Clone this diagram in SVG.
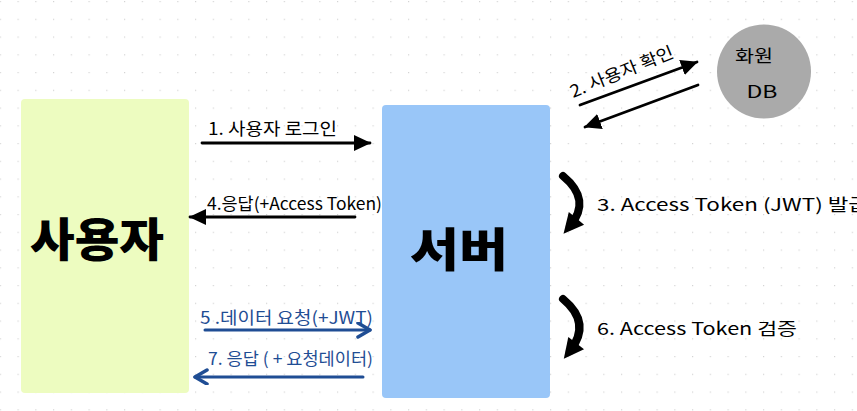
<svg xmlns="http://www.w3.org/2000/svg" width="857" height="411" viewBox="0 0 857 411">
  <defs>
    <pattern id="dots" x="17.5" y="1" width="17.75" height="17.75" patternUnits="userSpaceOnUse">
      <rect x="0" y="0" width="1.2" height="1.2" fill="#d4d4d4"/>
    </pattern>
    <marker id="ahBlack" markerUnits="userSpaceOnUse" markerWidth="18" markerHeight="18" refX="16" refY="8" orient="auto">
      <polygon points="0,0 17,8 0,16" fill="#000"/>
    </marker>
    <marker id="ahBlue" markerUnits="userSpaceOnUse" markerWidth="18" markerHeight="18" refX="14" refY="8" orient="auto">
      <path d="M2,1 L14,8 L2,15" fill="none" stroke="#1f4d94" stroke-width="3.5" stroke-linecap="round" stroke-linejoin="round"/>
    </marker>
    <marker id="ahThick" markerUnits="userSpaceOnUse" markerWidth="24" markerHeight="24" refX="12" refY="12" orient="auto">
      <polygon points="2,2 22,12 2,22" fill="#000"/>
    </marker>
  </defs>
  <style>
    .lbl { font-family: "Noto Sans CJK KR", "Noto Sans", sans-serif; font-size: 17px; fill: #000; }
    .blue { fill: #1f4d94; }
    .big { font-family: "Noto Sans CJK KR", sans-serif; font-weight: 900; font-size: 46px; fill: #000; }
    .ln { stroke: #000; stroke-width: 2.8; fill: none; stroke-linecap: round; }
    .lnb { stroke: #1f4d94; stroke-width: 3; fill: none; stroke-linecap: round; }
    .thick { stroke: #000; stroke-width: 8; fill: none; stroke-linecap: round; }
  </style>
  <rect width="857" height="411" fill="#ffffff"/>
  <rect width="857" height="411" fill="url(#dots)"/>

  <g id="user">
    <rect x="21" y="99" width="168" height="294" rx="4" fill="#edfcc0"/>
    <text class="big" x="97" y="256" text-anchor="middle" textLength="134" lengthAdjust="spacingAndGlyphs">사용자</text>
  </g>

  <g id="server">
    <rect x="382" y="105" width="168" height="293" rx="4" fill="#99c6f8"/>
    <text class="big" x="459" y="266" text-anchor="middle" font-size="50" textLength="98" lengthAdjust="spacingAndGlyphs">서버</text>
  </g>

  <g id="memberdb">
    <circle cx="764" cy="71.5" r="47" fill="#aaaaaa"/>
    <text class="lbl" x="754" y="62" text-anchor="middle" font-size="21" textLength="38" lengthAdjust="spacingAndGlyphs">화원</text>
    <text class="lbl" x="762" y="98" text-anchor="middle" font-size="22" textLength="31" lengthAdjust="spacingAndGlyphs">DB</text>
  </g>

  <g id="connectors">
    <line class="ln" x1="202" y1="143" x2="370" y2="143" marker-end="url(#ahBlack)"/>
    <line class="ln" x1="355" y1="217" x2="190" y2="217" marker-end="url(#ahBlack)"/>
    <line class="lnb" x1="205" y1="330" x2="370" y2="330" marker-end="url(#ahBlue)"/>
    <line class="lnb" x1="363" y1="377" x2="195" y2="377" marker-end="url(#ahBlue)"/>
    <line class="ln" x1="580" y1="105" x2="697" y2="62" marker-end="url(#ahBlack)"/>
    <line class="ln" x1="698" y1="85" x2="585" y2="127" marker-end="url(#ahBlack)"/>
    <path class="thick" d="M563,176 Q592,200 570,226" marker-end="url(#ahThick)"/>
    <path class="thick" d="M563,299 Q592,323 570,351" marker-end="url(#ahThick)"/>
  </g>

  <g id="labels">
    <text class="lbl" x="208" y="135" textLength="129" lengthAdjust="spacingAndGlyphs">1. 사용자 로그인</text>
    <text class="lbl" x="207" y="210" textLength="175" lengthAdjust="spacingAndGlyphs">4.응답(+Access Token)</text>
    <text class="lbl blue" x="200" y="324" textLength="173" lengthAdjust="spacingAndGlyphs">5 .데이터 요청(+JWT)</text>
    <text class="lbl blue" x="208" y="365" textLength="165" lengthAdjust="spacingAndGlyphs">7. 응답 ( + 요청데이터)</text>
    <text class="lbl" x="0" y="0" transform="translate(573,98) rotate(-22)" textLength="110" lengthAdjust="spacingAndGlyphs">2. 사용자 확인</text>
    <text class="lbl" x="597" y="211" font-size="19" textLength="272" lengthAdjust="spacingAndGlyphs">3. Access Token (JWT) 발급</text>
    <text class="lbl" x="597" y="335" font-size="19" textLength="200" lengthAdjust="spacingAndGlyphs">6. Access Token 검증</text>
  </g>
</svg>
